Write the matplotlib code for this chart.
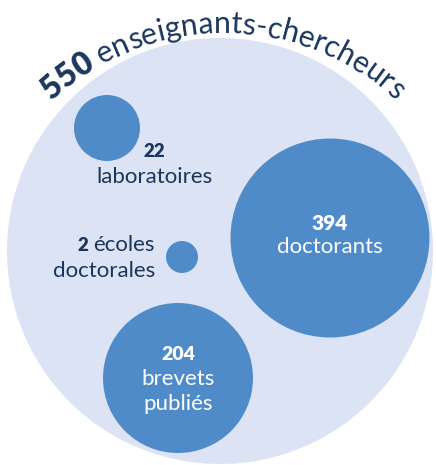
import matplotlib
matplotlib.use("Agg")
import matplotlib.pyplot as plt
from matplotlib.patches import Circle
from matplotlib.textpath import TextToPath
from matplotlib.font_manager import FontProperties
import numpy as np

# ---------------- data ----------------
total_value = 550
total_label = "enseignants-chercheurs"
values = [22, 2, 394, 204]
labels = ["laboratoires", "écoles\ndoctorales", "doctorants", "brevets\npubliés"]

# ---------------- layout (pixels) ----------------
W, H, DPI = 436, 465, 100
outer_center = (220, 251)
outer_radius = 213
bubble_centers = [(107, 128), (182, 257), (330, 238), (178, 378)]
bubble_radii = [33, 16, 99.5, 75]

LIGHT = "#dce3f4"
BLUE = "#508bc9"
NAVY = "#1b365d"
FAMILY = ["Lato", "DejaVu Sans"]

fig = plt.figure(figsize=(W / DPI, H / DPI), dpi=DPI)
ax = fig.add_axes([0, 0, 1, 1])
ax.set_xlim(0, W)
ax.set_ylim(H, 0)
ax.axis("off")

ax.add_patch(Circle(outer_center, outer_radius, color=LIGHT, lw=0, zorder=1))
for (cx, cy), r in zip(bubble_centers, bubble_radii):
    ax.add_patch(Circle((cx, cy), r, color=BLUE, lw=0, zorder=2))

# ---------------- curved title ----------------
t2p = TextToPath()


def wpx(s, fp):
    w, h, d = t2p.get_text_width_height_descent(s, fp, ismath=False)
    return w * DPI / 72.0


arc_c = (223, 283)
arc_R = 250
target_width = 378


def build(size):
    fb = FontProperties(family=FAMILY, weight="heavy", size=size * 1.05)
    fl = FontProperties(family=FAMILY, weight="normal", size=size)
    segs = [(str(total_value), fb), (" " + total_label, fl)]
    chars = []
    offset = 0.0
    for s, fp in segs:
        for i, ch in enumerate(s):
            a = wpx(s[:i], fp) if i > 0 else 0.0
            b = wpx(s[: i + 1], fp)
            chars.append((ch, fp, offset + (a + b) / 2.0))
        offset += wpx(s, fp)
    return chars, offset


chars, tw = build(10)
size = 10 * target_width / tw
chars, tw = build(size)
for ch, fp, s in chars:
    if ch == " ":
        continue
    theta = np.pi / 2 + (tw / 2 - s) / arc_R
    x = arc_c[0] + arc_R * np.cos(theta)
    y = arc_c[1] - arc_R * np.sin(theta)
    ax.text(x, y, ch, fontproperties=fp, color=NAVY, ha="center", va="baseline",
            rotation=np.degrees(theta) - 90, rotation_mode="anchor", zorder=5)

# ---------------- bubble labels ----------------
num_kw = dict(family=FAMILY, weight="heavy", zorder=5)
lab_kw = dict(family=FAMILY, weight="normal", zorder=5)
LAB_FS = 16

# 22 laboratoires
ax.text(154, 157, str(values[0]), color=NAVY, fontsize=13.5, ha="center", va="baseline", **num_kw)
ax.text(154, 183, labels[0], color=NAVY, fontsize=LAB_FS, ha="center", va="baseline", **lab_kw)

# 2 écoles doctorales
l1, l2 = labels[1].split("\n")
t_ec = ax.text(155, 251, l1, color=NAVY, fontsize=LAB_FS, ha="right", va="baseline", **lab_kw)
fig.canvas.draw()
bb = t_ec.get_window_extent(renderer=fig.canvas.get_renderer())
x_left = ax.transData.inverted().transform((bb.x0, bb.y0))[0]
ax.text(x_left - 5, 251, str(values[1]), color=NAVY, fontsize=13.5, ha="right", va="baseline", **num_kw)
ax.text(155, 277, l2, color=NAVY, fontsize=LAB_FS, ha="right", va="baseline", **lab_kw)

# 394 doctorants
ax.text(330, 230, str(values[2]), color="white", fontsize=15, ha="center", va="baseline", **num_kw)
ax.text(330, 253, labels[2], color="white", fontsize=LAB_FS, ha="center", va="baseline", **lab_kw)

# 204 brevets publiés
b1, b2 = labels[3].split("\n")
ax.text(178, 360, str(values[3]), color="white", fontsize=14, ha="center", va="baseline", **num_kw)
ax.text(178, 385, b1, color="white", fontsize=LAB_FS, ha="center", va="baseline", **lab_kw)
ax.text(178, 410, b2, color="white", fontsize=LAB_FS, ha="center", va="baseline", **lab_kw)

fig.savefig("out.png", dpi=DPI)
